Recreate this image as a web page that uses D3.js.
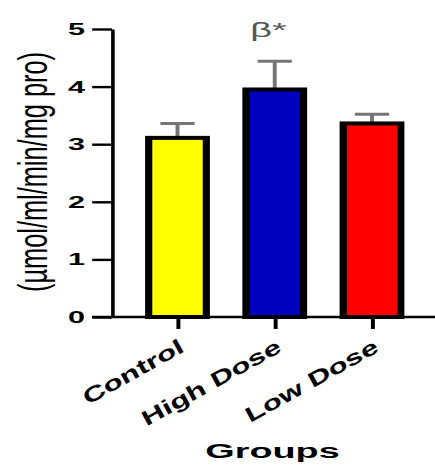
<!DOCTYPE html>
<html>
<head>
<meta charset="utf-8">
<script src="https://cdn.jsdelivr.net/npm/d3@7"></script>
<style>
  body { margin: 0; background: #fff; }
  svg { display: block; }
  text { font-family: "Liberation Sans", Arial, sans-serif; }
</style>
</head>
<body>
<svg id="chart" width="435" height="468"></svg>
<script>
const groups = ['Control', 'High Dose', 'Low Dose'];
const means = [3.11, 3.95, 3.36];
const sds = [0.25, 0.49, 0.16];
const barColors = ['#ffff00', '#0000bf', '#ff0000'];
const sigLabels = ['', 'β*', ''];
const yTicks = [0, 1, 2, 3, 4, 5];

// the picture is stretched sideways, so most of it is drawn squeezed then scaled
const sx = 1.8;
const svg = d3.select('#chart');
const g = svg.append('g').attr('transform', `scale(${sx},1)`);

const y = d3.scaleLinear().domain([0, 5]).range([317, 29]);
const x = d3.scalePoint().domain(groups).range([177.5 / sx, 372 / sx]);
const barW = 32;

// error bars (upper only), behind the bars
g.selectAll('.err')
  .data(groups)
  .enter()
  .append('g')
  .attr('class', 'err')
  .each(function (d, i) {
    const sel = d3.select(this);
    sel.append('line')
      .attr('x1', x(d)).attr('x2', x(d))
      .attr('y1', y(means[i])).attr('y2', y(means[i] + sds[i]))
      .attr('stroke', '#767676').attr('stroke-width', 2.2);
    sel.append('line')
      .attr('x1', x(d) - 9.5).attr('x2', x(d) + 9.5)
      .attr('y1', y(means[i] + sds[i])).attr('y2', y(means[i] + sds[i]))
      .attr('stroke', '#767676').attr('stroke-width', 3);
  });

g.selectAll('.bar')
  .data(groups)
  .enter()
  .append('rect')
  .attr('class', 'bar')
  .attr('x', d => x(d) - barW / 2)
  .attr('y', (d, i) => y(means[i]))
  .attr('width', barW)
  .attr('height', (d, i) => y(0) - y(means[i]))
  .attr('fill', (d, i) => barColors[i])
  .attr('stroke', '#000')
  .attr('stroke-width', 4);

// y axis
const yAxis = g.append('g')
  .attr('transform', `translate(${112 / sx},0)`)
  .call(d3.axisLeft(y).tickValues(yTicks).tickFormat(d3.format('d'))
    .tickSize(11).tickSizeOuter(0).tickPadding(4));
yAxis.select('.domain').attr('stroke', '#000').attr('stroke-width', 2);
yAxis.selectAll('.tick line').attr('stroke', '#000').attr('stroke-width', 2.4);
yAxis.selectAll('.tick text')
  .attr('fill', '#000')
  .style('font-family', '"Liberation Sans", Arial, sans-serif')
  .style('font-size', '17px')
  .style('font-weight', 'bold');

// x axis
g.append('line')
  .attr('x1', 92 / sx).attr('x2', 436 / sx)
  .attr('y1', y(0)).attr('y2', y(0))
  .attr('stroke', '#000').attr('stroke-width', 2.4);
const xAxis = g.append('g')
  .attr('transform', `translate(0,${y(0)})`)
  .call(d3.axisBottom(x).tickSize(12).tickSizeOuter(0).tickFormat(''));
xAxis.select('.domain').remove();
xAxis.selectAll('.tick line').attr('stroke', '#000').attr('stroke-width', 2.2);

// significance mark
g.selectAll('.sig')
  .data(groups)
  .enter()
  .append('text')
  .attr('class', 'sig')
  .attr('x', d => x(d) - 3.5)
  .attr('y', 37)
  .attr('text-anchor', 'middle')
  .attr('fill', '#555')
  .style('font-size', '21px')
  .text((d, i) => sigLabels[i]);

// axis titles
g.append('text')
  .attr('transform', `translate(26,172) rotate(-90)`)
  .attr('text-anchor', 'middle')
  .attr('textLength', 240)
  .attr('lengthAdjust', 'spacingAndGlyphs')
  .style('font-size', '23px')
  .text('(µmol/ml/min/mg pro)');

g.append('text')
  .attr('x', 272.5 / sx)
  .attr('y', 458)
  .attr('text-anchor', 'middle')
  .style('font-size', '21px')
  .style('font-weight', 'bold')
  .text('Groups');

// slanted group labels, drawn unsqueezed
svg.selectAll('.xlab')
  .data(groups)
  .enter()
  .append('text')
  .attr('class', 'xlab')
  .attr('transform', d => `translate(${x(d) * sx + 8},351) rotate(-29) scale(1.5,1)`)
  .attr('text-anchor', 'end')
  .style('font-size', '21px')
  .style('font-weight', 'bold')
  .text(d => d);
</script>
</body>
</html>
